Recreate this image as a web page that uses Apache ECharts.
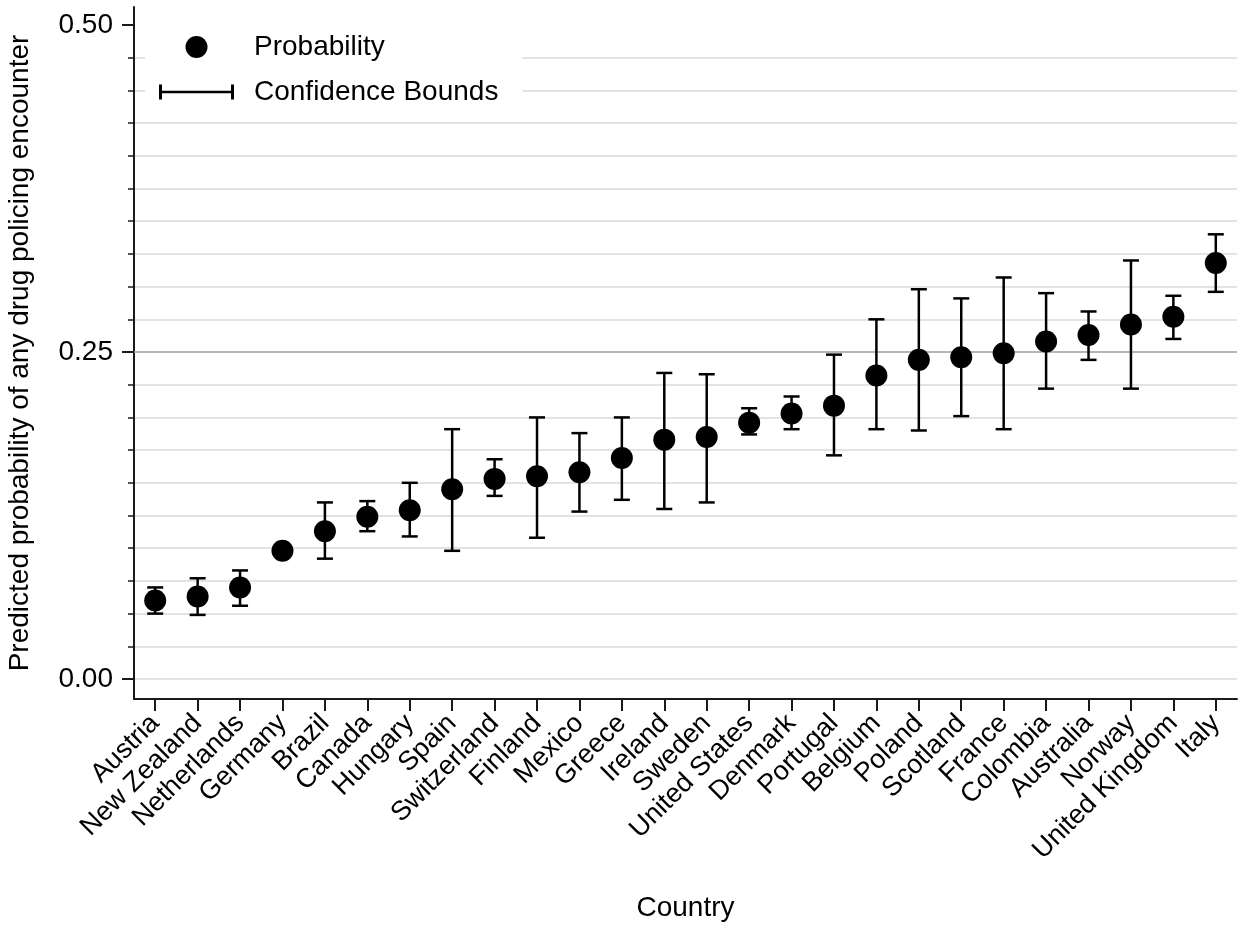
<!DOCTYPE html>
<html>
<head>
<meta charset="utf-8">
<script src="https://cdn.jsdelivr.net/npm/echarts@6/dist/echarts.min.js"></script>
<style>html,body{margin:0;padding:0;background:#fff}#chart{width:1241px;height:930px}</style>
</head>
<body>
<div id="chart"></div>
<script>
const countries = ["Austria","New Zealand","Netherlands","Germany","Brazil","Canada","Hungary","Spain","Switzerland","Finland","Mexico","Greece","Ireland","Sweden","United States","Denmark","Portugal","Belgium","Poland","Scotland","France","Colombia","Australia","Norway","United Kingdom","Italy"];
const probability = [0.060,0.063,0.070,0.098,0.113,0.124,0.129,0.145,0.153,0.155,0.158,0.169,0.183,0.185,0.196,0.203,0.209,0.232,0.244,0.246,0.249,0.258,0.263,0.271,0.277,0.318];
const lowerBound = [0.050,0.049,0.056,0.096,0.092,0.113,0.109,0.098,0.140,0.108,0.128,0.137,0.130,0.135,0.187,0.191,0.171,0.191,0.190,0.201,0.191,0.222,0.244,0.222,0.260,0.296];
const upperBound = [0.070,0.077,0.083,0.100,0.135,0.136,0.150,0.191,0.168,0.200,0.188,0.200,0.234,0.233,0.207,0.216,0.248,0.275,0.298,0.291,0.307,0.295,0.281,0.320,0.293,0.340];
const minorTicks = [0,0.025,0.05,0.075,0.1,0.125,0.15,0.175,0.2,0.225,0.25,0.275,0.3,0.325,0.35,0.375,0.4,0.425,0.45,0.475];
const majorTicks = [0,0.25,0.5];
const highlightLine = [0.25];

const FONT = "'Liberation Sans', Arial, sans-serif";
const FS = 28;
const chart = echarts.init(document.getElementById('chart'));
const yMin = -0.0153, yMax = 0.5138;

chart.setOption({
  animation: false,
  backgroundColor: '#fff',
  textStyle: {fontFamily: FONT},
  grid: {left: 134, right: 4, top: 7, bottom: 231, containLabel: false, outerBoundsMode: 'none'},
  legend: {
    orient: 'vertical',
    left: 145, top: 23,
    padding: [10, 24, 14, 14],
    backgroundColor: '#fff',
    itemWidth: 75, itemHeight: 22, itemGap: 17,
    textStyle: {fontSize: FS, color: '#000', fontFamily: FONT, lineHeight: 22, padding: [0,0,0,15]},
    data: [
      {name: 'Probability', icon: 'circle'},
      {name: 'Confidence Bounds', icon: 'path://M0,0h3v15h-3z M0,6.3h75v2.5h-75z M72,0h3v15h-3z'}
    ],
    z: 10
  },
  xAxis: {
    type: 'category',
    data: countries,
    boundaryGap: true,
    name: 'Country',
    nameLocation: 'middle',
    nameGap: 195,
    nameTextStyle: {fontSize: FS, color: '#000', fontFamily: FONT},
    axisLine: {show: true, onZero: false, lineStyle: {color: '#1a1a1a', width: 2}},
    axisTick: {show: true, alignWithLabel: true, length: 12, lineStyle: {color: '#1a1a1a', width: 2}},
    axisLabel: {rotate: 45, fontSize: 27, color: '#000', fontFamily: FONT, margin: 20, interval: 0},
    splitLine: {show: false}
  },
  yAxis: [
    {
      type: 'value', min: yMin, max: yMax, position: 'left',
      name: 'Predicted probability of any drug policing encounter',
      nameLocation: 'middle', nameGap: 100,
      nameTextStyle: {fontSize: FS, color: '#000', fontFamily: FONT},
      axisLine: {show: true, onZero: false, lineStyle: {color: '#1a1a1a', width: 2}},
      axisTick: {show: true, length: 6, customValues: minorTicks, lineStyle: {color: '#1a1a1a', width: 1.5}},
      axisLabel: {show: false},
      splitLine: {show: true, lineStyle: {color: '#dadada', width: 1.5}}
    },
    {
      type: 'value', min: yMin, max: yMax, position: 'left',
      axisLine: {show: false, onZero: false},
      axisTick: {show: true, length: 12, customValues: majorTicks, lineStyle: {color: '#1a1a1a', width: 2}},
      axisLabel: {show: true, customValues: majorTicks, margin: 21, fontSize: FS, color: '#000', fontFamily: FONT,
                  formatter: v => v.toFixed(2)},
      splitLine: {show: false}
    }
  ],
  series: [
    {
      name: 'Confidence Bounds',
      type: 'custom',
      yAxisIndex: 0,
      z: 3,
      itemStyle: {color: '#000'},
      data: countries.map((c, i) => [i, lowerBound[i], upperBound[i]]),
      encode: {x: 0, y: [1, 2]},
      renderItem: function (params, api) {
        const x = api.value(0);
        const pLo = api.coord([x, api.value(1)]);
        const pHi = api.coord([x, api.value(2)]);
        const w = 8;
        const style = {stroke: '#000', lineWidth: 2.5, fill: null};
        return {type: 'group', children: [
          {type: 'line', shape: {x1: pLo[0], y1: pLo[1], x2: pHi[0], y2: pHi[1]}, style: style},
          {type: 'line', shape: {x1: pLo[0] - w, y1: pLo[1], x2: pLo[0] + w, y2: pLo[1]}, style: style},
          {type: 'line', shape: {x1: pHi[0] - w, y1: pHi[1], x2: pHi[0] + w, y2: pHi[1]}, style: style}
        ]};
      },
      markLine: {
        silent: true, symbol: 'none', z: 1,
        label: {show: false},
        lineStyle: {color: '#a6a6a6', width: 1.5, type: 'solid'},
        data: highlightLine.map(v => ({yAxis: v}))
      }
    },
    {
      name: 'Probability',
      type: 'scatter',
      yAxisIndex: 0,
      z: 4,
      symbol: 'circle',
      symbolSize: 22,
      itemStyle: {color: '#000', opacity: 1},
      data: probability.map((v, i) => [i, v])
    }
  ]
});
</script>
</body>
</html>
